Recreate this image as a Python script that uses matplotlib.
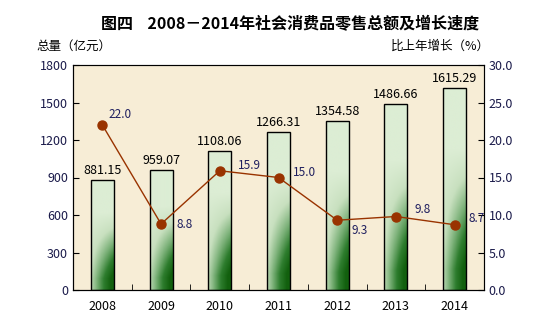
import numpy as np
import matplotlib
matplotlib.use("Agg")
import matplotlib.pyplot as plt
from matplotlib.colors import LinearSegmentedColormap

plt.rcParams['font.family'] = ['Noto Sans CJK SC', 'DejaVu Sans']

years = ['2008', '2009', '2010', '2011', '2012', '2013', '2014']
totals = [881.15, 959.07, 1108.06, 1266.31, 1354.58, 1486.66, 1615.29]
growth = [22.0, 8.8, 15.9, 15.0, 9.3, 9.8, 8.7]
label_offsets = [(6, 10), (15, 0), (18, 5), (14, 5), (14, -10), (19, 7), (14, 6)]

fig = plt.figure(figsize=(5.53, 3.34), dpi=100)
ax = fig.add_axes([73/553, 1-290/334, 411/553, 225/334])
ax.set_facecolor('#F7EDD6')

x = np.arange(len(years))
bars = ax.bar(x, totals, width=0.39, facecolor='none', edgecolor='black', linewidth=1.0, zorder=3)

cmap = LinearSegmentedColormap.from_list('g', ['#DCEDD4', '#C8E0BF', '#7DB27A', '#2E7D2E', '#12600E'])
ny, nx = 120, 40
yy, xx = np.mgrid[0:1:ny*1j, 0:1:nx*1j]
for b in bars:
    x0, w, h = b.get_x(), b.get_width(), b.get_height()
    f = 1 - yy  # fraction from top
    val = np.clip((f - 0.3) / 0.6, 0, 1) * (0.3 + 0.8 * xx)
    im = ax.imshow(np.clip(val, 0, 1), cmap=cmap, vmin=0, vmax=1, origin='lower',
                   extent=[x0, x0 + w, 0, h], aspect='auto', zorder=2, interpolation='bilinear')
    im.set_clip_path(b)
    ax.text(x0 + w/2, h + 25, f'{h:.2f}', ha='center', va='bottom', fontsize=9, color='black', zorder=5)

ax.set_xlim(-0.5, len(years) - 0.5)
ax.set_ylim(0, 1800)
ax.set_yticks(np.arange(0, 1801, 300))
ax.set_xticks(x)
ax.set_xticklabels(years)
ax.set_xticks(np.arange(0.5, len(years) - 0.5, 1), minor=True)
ax.tick_params(axis='x', which='major', length=0, pad=7, labelsize=9)
ax.tick_params(axis='x', which='minor', direction='in', length=4)
ax.tick_params(axis='y', direction='in', length=4, labelsize=9, labelcolor='#1a1a4a')
ax.set_aspect('auto')
for s in ['top', 'right']:
    ax.spines[s].set_color('#555555')

ax2 = ax.twinx()
ax2.set_ylim(0, 30)
ax2.set_yticks(np.arange(0, 30.1, 5))
ax2.set_yticklabels([f'{v:.1f}' for v in np.arange(0, 30.1, 5)])
ax2.tick_params(axis='y', direction='in', length=4, labelsize=9, labelcolor='#1a1a4a')
ax2.plot(x, growth, color='#993300', linewidth=1.0, marker='o', markersize=6.5,
         markerfacecolor='#993300', markeredgecolor='#993300', zorder=5)
for xi, g, off in zip(x, growth, label_offsets):
    ax2.annotate(f'{g:.1f}', (xi, g), xytext=off, textcoords='offset pixels',
                 ha='left', va='center', fontsize=8.5, color='#1f1f5f')

fig.text(290/553, 1-24/334, '图四    2008－2014年社会消费品零售总额及增长速度', ha='center', va='center',
         fontsize=11.5, fontweight='bold')
fig.text(36/553, 1-46/334, '总量（亿元）', ha='left', va='center', fontsize=9)
fig.text(490/553, 1-46/334, '比上年增长（%）', ha='right', va='center', fontsize=9)

fig.savefig('out.png', dpi=100)
